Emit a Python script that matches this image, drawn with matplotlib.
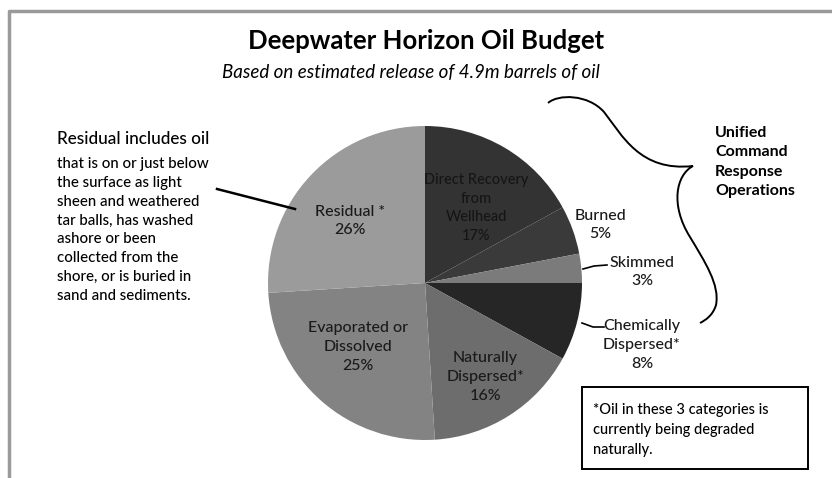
import matplotlib.pyplot as plt
from matplotlib.path import Path
from matplotlib.patches import PathPatch, Rectangle

plt.rcParams['font.family'] = ['Lato', 'DejaVu Sans']

# pie data, clockwise from 12 o'clock
categories = ['Direct Recovery\nfrom\nWellhead', 'Burned', 'Skimmed',
              'Chemically\nDispersed*', 'Naturally\nDispersed*',
              'Evaporated or\nDissolved', 'Residual *']
shares = [17, 5, 3, 8, 16, 25, 26]
colors = ['#333333', '#3a3a3a', '#7b7b7b', '#262626', '#6d6d6d', '#838383', '#9b9b9b']

W, H = 832, 478


def Y(y):
    # pixel row (from top) -> data y
    return H - y


fig = plt.figure(figsize=(W / 100, H / 100), dpi=100)
ax = fig.add_axes([0, 0, 1, 1])

ax.pie(shares, colors=colors, startangle=90, counterclock=False,
       center=(425, Y(283)), radius=157, wedgeprops=dict(linewidth=0))

# pie() resets the limits, so set them afterwards
ax.set_xlim(0, W)
ax.set_ylim(0, H)
ax.set_aspect('equal')
ax.axis('off')

# outer frame (top and left edges visible)
ax.plot([9, 9, W], [0, Y(11), Y(11)], color='#9a9a9a', lw=2.5, solid_capstyle='butt')

ax.text(426, Y(41), 'Deepwater Horizon Oil Budget', ha='center', va='center',
        fontsize=18.5, fontweight='bold')
ax.text(411, Y(72), 'Based on estimated release of 4.9m barrels of oil',
        ha='center', va='center', fontsize=13.5, style='italic')

# slice labels
lab = dict(ha='center', va='center', fontsize=11.5, linespacing=1.45,
           color='#1a1a1a', fontweight='medium')
labels = [
    (476, 208, 'Direct Recovery\nfrom\nWellhead\n17%'),
    (600, 225, 'Burned\n5%'),
    (642, 272, 'Skimmed\n3%'),
    (642, 345, 'Chemically\nDispersed*\n8%'),
    (485, 377, 'Naturally\nDispersed*\n16%'),
    (358, 347, 'Evaporated or\nDissolved\n25%'),
    (350, 221, 'Residual *\n26%'),
]
for i, (x, y, s) in enumerate(labels):
    if i == 0:
        ax.text(x, Y(y), s, ha='center', va='center', fontsize=10.5,
                linespacing=1.45, color='#151515', fontweight='medium')
    else:
        ax.text(x, Y(y), s, **lab)

# leader lines
ax.plot([583, 594, 607], [Y(269), Y(266), Y(265)], color='black', lw=1.2)
ax.plot([582, 593, 604], [Y(323), Y(327), Y(327)], color='black', lw=1.2)
ax.plot([217, 295], [Y(189), Y(209)], color='black', lw=1.8)

# residual note
ax.text(57, Y(139), 'Residual includes oil', ha='left', va='center',
        fontsize=12.3, fontweight='medium')
ax.text(57, Y(230), 'that is on or just below\nthe surface as light\n'
        'sheen and weathered\ntar balls, has washed\nashore or been\n'
        'collected from the\nshore, or is buried in\nsand and sediments.',
        ha='left', va='center', fontsize=10.85, linespacing=1.44, fontweight='medium')

# curly brace for unified command
verts = [(548, 103), (558, 94), (588, 94), (604, 112),
         (622, 135), (640, 172), (693, 166),
         (676, 175), (670, 205), (690, 237),
         (705, 262), (720, 285), (716, 305),
         (713, 315), (706, 320), (700, 323)]
codes = [Path.MOVETO] + [Path.CURVE4] * 15
brace = Path([(x, Y(y)) for x, y in verts], codes)
ax.add_patch(PathPatch(brace, fill=False, lw=1.4, color='black'))

ax.text(715, Y(162), 'Unified\nCommand\nResponse\nOperations', ha='left', va='center',
        fontsize=11.5, fontweight='bold', linespacing=1.48)

# footnote box
ax.add_patch(Rectangle((582, Y(469)), 226, 82, fill=False, lw=1.4, color='black'))
ax.text(593, Y(430), '*Oil in these 3 categories is\ncurrently being degraded\nnaturally.',
        ha='left', va='center', fontsize=10.5, linespacing=1.56, fontweight='medium')

fig.savefig('out.png', dpi=100)
